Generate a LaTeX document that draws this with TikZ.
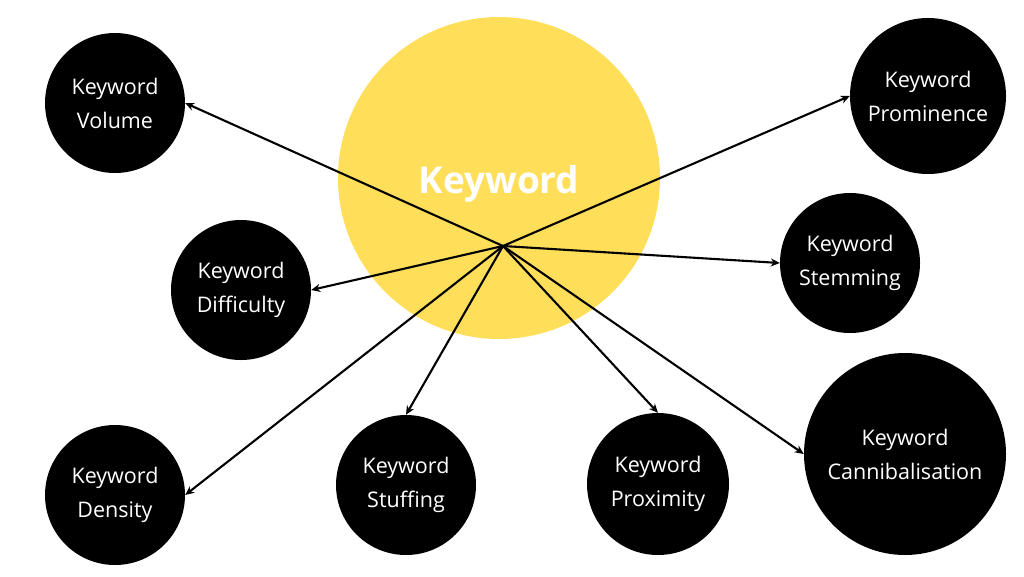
\documentclass[tikz,border=0pt]{standalone}
\usepackage{fontspec}
\setmainfont{Open Sans}
\usetikzlibrary{arrows.meta}
\definecolor{kwyellow}{HTML}{FFDE59}
\tikzset{
  topic/.style={circle,fill=black,inner sep=0pt,text=white,align=center,
    font=\fontsize{21.5pt}{34pt}\selectfont},
  link/.style={-{Stealth[length=9pt,width=8pt]},line width=2.1pt,black},
}
\begin{document}
\begin{tikzpicture}[x=1pt,y=-1pt]
\path[use as bounding box] (0,0) rectangle (1024,576);
\node[circle,fill=kwyellow,inner sep=0pt,minimum size=322pt] (kw) at (499,178) {};
\node[anchor=base,text=white,inner sep=0pt,font=\fontsize{37pt}{44pt}\selectfont\bfseries] (kwtext) at (499,193) {Keyword};
\coordinate (hub) at (503,246);
\node[topic,minimum size=140pt] (vol) at (115,103) {Keyword\\Volume};
\node[topic,minimum size=156pt] (prom) at (928,96) {Keyword\\Prominence};
\node[topic,minimum size=140pt] (diff) at (241,290) {Keyword\\Difficulty};
\node[topic,minimum size=140pt] (stem) at (850,263) {Keyword\\Stemming};
\node[topic,minimum size=140pt] (dens) at (115,495) {Keyword\\Density};
\node[topic,minimum size=140pt] (stuff) at (406,485) {Keyword\\Stuffing};
\node[topic,minimum size=142pt] (prox) at (658,484) {Keyword\\Proximity};
\node[topic,minimum size=202pt] (cann) at (905,454) {Keyword\\Cannibalisation};
\draw[link] (hub) -- (vol.east);
\draw[link] (hub) -- (prom.west);
\draw[link] (hub) -- (diff.east);
\draw[link] (hub) -- (stem.west);
\draw[link] (hub) -- (dens.east);
\draw[link] (hub) -- (stuff.north);
\draw[link] (hub) -- (prox.north);
\draw[link] (hub) -- (cann.west);
\end{tikzpicture}
\end{document}
